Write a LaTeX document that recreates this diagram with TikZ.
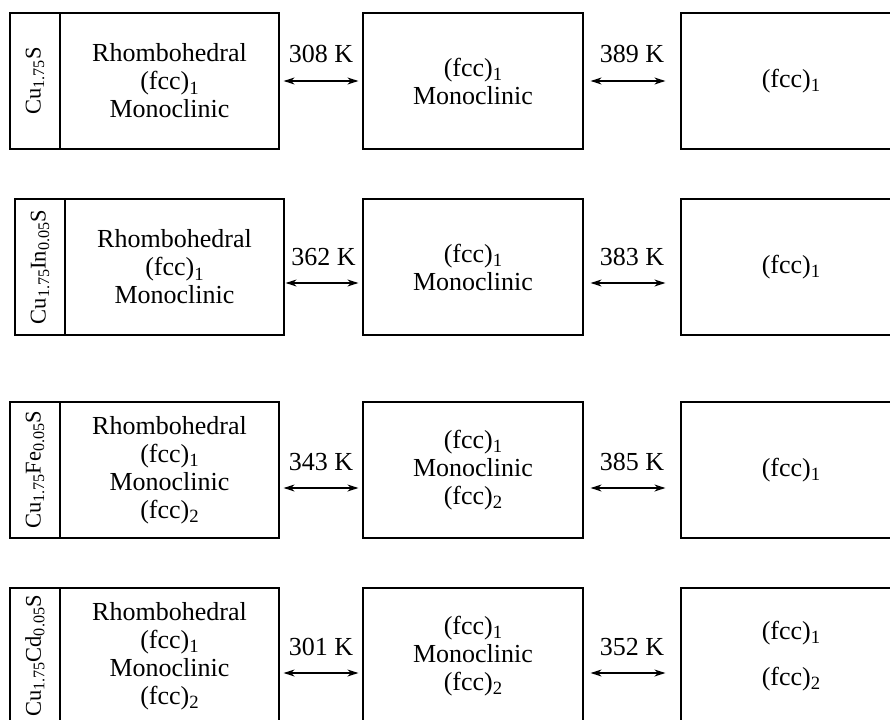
\documentclass[tikz,border=0pt]{standalone}
\usepackage{fontspec}
\setmainfont{Liberation Serif}
\usetikzlibrary{arrows.meta}
\newcommand\sbs[1]{\raisebox{-0.16em}{\scalebox{0.72}{#1}}}
\begin{document}
\begin{tikzpicture}[x=1pt,y=-1pt,
  box/.style={draw, line width=1.2pt, rectangle, inner sep=0pt, minimum height=136pt,
    align=center, font=\fontsize{26}{28}\selectfont},
  labbox/.style={box, minimum width=50pt},
  contbox/.style={box, minimum width=219pt},
  phasebox/.style={box, minimum width=220pt},
  vlab/.style={rotate=90, inner sep=0pt, font=\fontsize{22.5}{24}\selectfont},
  arr/.style={line width=1.3pt, {Stealth[length=11pt,width=7pt]}-{Stealth[length=11pt,width=7pt]}},
  temp/.style={font=\fontsize{26}{26}\selectfont, anchor=base, inner sep=0pt, yshift=18pt}
]
\useasboundingbox (0,0) rectangle (890,719);
\clip (0,0) rectangle (890,719);

% Row 1
\node[labbox] (a1) at (35,81) {};
\node[vlab] (a1t) at (a1.center) {Cu\sbs{1.75}S};
\node[contbox] (c1) at (169.5,81) {Rhombohedral\\(fcc)\sbs{1}\\Monoclinic};
\node[phasebox] (m1) at (473,81) {(fcc)\sbs{1}\\Monoclinic};
\node[phasebox] (r1) at (791,81) {(fcc)\sbs{1}};
\draw[arr, shorten <=4pt, shorten >=4pt] (c1.east) -- (m1.west) node[midway, temp] (t11) {308 K};
\draw[arr, shorten <=7pt, shorten >=15pt] (m1.east) -- (r1.west) node[midway, temp] (t12) {389 K};

% Row 2
\node[labbox] (a2) at (40,267) {};
\node[vlab] (a2t) at (a2.center) {Cu\sbs{1.75}In\sbs{0.05}S};
\node[contbox] (c2) at (174.5,267) {Rhombohedral\\(fcc)\sbs{1}\\Monoclinic};
\node[phasebox] (m2) at (473,267) {(fcc)\sbs{1}\\Monoclinic};
\node[phasebox] (r2) at (791,267) {(fcc)\sbs{1}};
\draw[arr, shorten <=1pt, shorten >=4pt] ([yshift=-16pt]c2.east) -- ([yshift=-16pt]m2.west) node[midway, temp] (t21) {362 K};
\draw[arr, shorten <=7pt, shorten >=15pt] ([yshift=-16pt]m2.east) -- ([yshift=-16pt]r2.west) node[midway, temp] (t22) {383 K};

% Row 3
\node[labbox] (a3) at (35,470) {};
\node[vlab] (a3t) at (a3.center) {Cu\sbs{1.75}Fe\sbs{0.05}S};
\node[contbox] (c3) at (169.5,470) {Rhombohedral\\(fcc)\sbs{1}\\Monoclinic\\(fcc)\sbs{2}};
\node[phasebox] (m3) at (473,470) {(fcc)\sbs{1}\\Monoclinic\\(fcc)\sbs{2}};
\node[phasebox] (r3) at (791,470) {(fcc)\sbs{1}};
\draw[arr, shorten <=4pt, shorten >=4pt] ([yshift=-18pt]c3.east) -- ([yshift=-18pt]m3.west) node[midway, temp] (t31) {343 K};
\draw[arr, shorten <=7pt, shorten >=15pt] ([yshift=-18pt]m3.east) -- ([yshift=-18pt]r3.west) node[midway, temp] (t32) {385 K};

% Row 4
\node[labbox] (a4) at (35,656) {};
\node[vlab] (a4t) at (a4.center) {Cu\sbs{1.75}Cd\sbs{0.05}S};
\node[contbox] (c4) at (169.5,656) {Rhombohedral\\(fcc)\sbs{1}\\Monoclinic\\(fcc)\sbs{2}};
\node[phasebox] (m4) at (473,656) {(fcc)\sbs{1}\\Monoclinic\\(fcc)\sbs{2}};
\node[phasebox] (r4) at (791,656) {(fcc)\sbs{1}\\[18pt](fcc)\sbs{2}};
\draw[arr, shorten <=4pt, shorten >=4pt] ([yshift=-17pt]c4.east) -- ([yshift=-17pt]m4.west) node[midway, temp] (t41) {301 K};
\draw[arr, shorten <=7pt, shorten >=15pt] ([yshift=-17pt]m4.east) -- ([yshift=-17pt]r4.west) node[midway, temp] (t42) {352 K};
\end{tikzpicture}
\end{document}
